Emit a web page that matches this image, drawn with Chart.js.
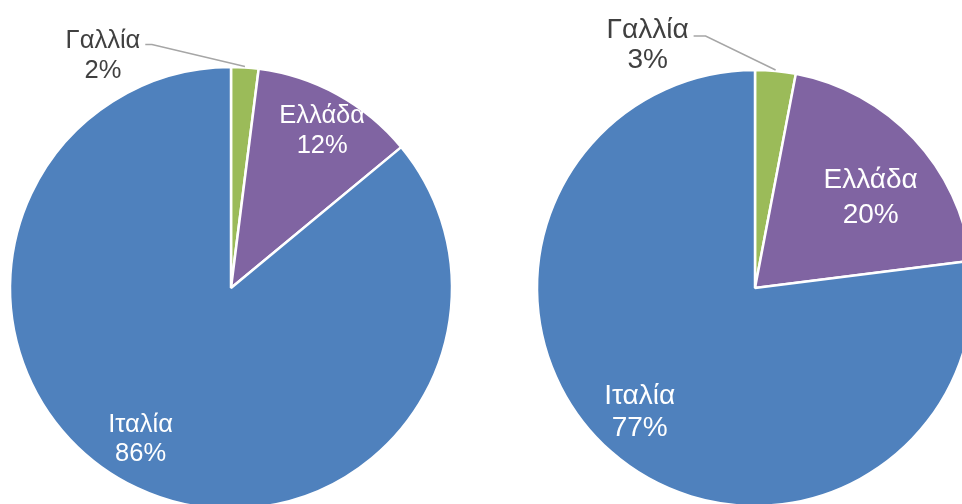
<!DOCTYPE html>
<html lang="el">
<head>
    <meta charset="UTF-8">
    <title>Pie charts</title>
    <style>
        body {
            margin: 0;
            padding: 0;
            width: 962px;
            height: 504px;
            overflow: hidden;
            background-color: #fff;
            position: relative;
        }
        canvas {
            position: absolute;
            top: 0;
        }
        #leftPie { left: 0; }
        #rightPie { left: 500px; }
    </style>
</head>
<body>
    <canvas id="leftPie" width="462" height="576"></canvas>
    <canvas id="rightPie" width="510" height="576"></canvas>

    <script src="https://cdn.jsdelivr.net/npm/chart.js"></script>
    <script>
        // Data
        const categories = ['Γαλλία', 'Ελλάδα', 'Ιταλία'];
        const leftValues = [2, 12, 86];
        const rightValues = [3, 20, 77];
        const sliceColors = ['#9BBB59', '#8064A2', '#4F81BD'];

        // draws the "name / percent" labels, inside or outside with a leader line
        const sliceLabels = {
            id: 'sliceLabels',
            afterDatasetsDraw(chart, args, opts) {
                const ctx = chart.ctx;
                const meta = chart.getDatasetMeta(0);
                const values = chart.data.datasets[0].data;
                const total = values.reduce((a, b) => a + b, 0);
                const capHalf = opts.fontSize * 0.716 / 2;
                ctx.save();
                ctx.font = opts.fontSize + 'px "Liberation Sans", Arial, sans-serif';
                ctx.textAlign = 'center';
                ctx.textBaseline = 'alphabetic';
                meta.data.forEach((arc, i) => {
                    const p = opts.placements[i];
                    const lines = [chart.data.labels[i], Math.round(values[i] / total * 100) + '%'];
                    let mid = (arc.startAngle + arc.endAngle) / 2;
                    let cx, cy;
                    if (p.inside) {
                        mid += p.turn * Math.PI / 180;
                        cx = arc.x + Math.cos(mid) * arc.outerRadius * p.frac;
                        cy = arc.y + Math.sin(mid) * arc.outerRadius * p.frac;
                        ctx.fillStyle = '#fff';
                    } else {
                        const ex = arc.x + Math.cos(mid) * (arc.outerRadius + 1);
                        const ey = arc.y + Math.sin(mid) * (arc.outerRadius + 1);
                        cx = ex + p.dx;
                        cy = ey + p.dy;
                        const textRight = cx + ctx.measureText(lines[0]).width / 2;
                        ctx.strokeStyle = '#A6A6A6';
                        ctx.lineWidth = 1.5;
                        ctx.beginPath();
                        ctx.moveTo(ex, ey);
                        ctx.lineTo(ex + p.ex, ey + p.ey);
                        ctx.lineTo(textRight + 5, ey + p.ey);
                        ctx.stroke();
                        ctx.fillStyle = '#404040';
                    }
                    ctx.fillText(lines[0], cx, cy - p.gap / 2 + capHalf);
                    ctx.fillText(lines[1], cx, cy + p.gap / 2 + capHalf);
                });
                ctx.restore();
            }
        };

        function makePie(id, values, radius, labelOpts) {
            return new Chart(document.getElementById(id), {
                type: 'pie',
                data: {
                    labels: categories,
                    datasets: [{
                        data: values,
                        backgroundColor: sliceColors,
                        borderColor: '#fff',
                        borderWidth: 2.5,
                        hoverOffset: 0,
                        radius: radius
                    }]
                },
                options: {
                    responsive: false,
                    animation: false,
                    events: [],
                    layout: { padding: 0 },
                    plugins: {
                        legend: { display: false },
                        tooltip: { enabled: false },
                        sliceLabels: labelOpts
                    }
                },
                plugins: [sliceLabels]
            });
        }

        makePie('leftPie', leftValues, 221, {
            fontSize: 25.5,
            placements: [
                { inside: false, dx: -142, dy: -13, ex: -93, ey: -22, gap: 30 },
                { inside: true, frac: 0.83, turn: 1, gap: 30 },
                { inside: true, frac: 0.79, turn: 6, gap: 29 }
            ]
        });

        makePie('rightPie', rightValues, 218, {
            fontSize: 28,
            placements: [
                { inside: false, dx: -128, dy: -27, ex: -70, ey: -34, gap: 30 },
                { inside: true, frac: 0.68, turn: 4.5, gap: 35 },
                { inside: true, frac: 0.77, turn: 2, gap: 32 }
            ]
        });
    </script>
</body>
</html>
